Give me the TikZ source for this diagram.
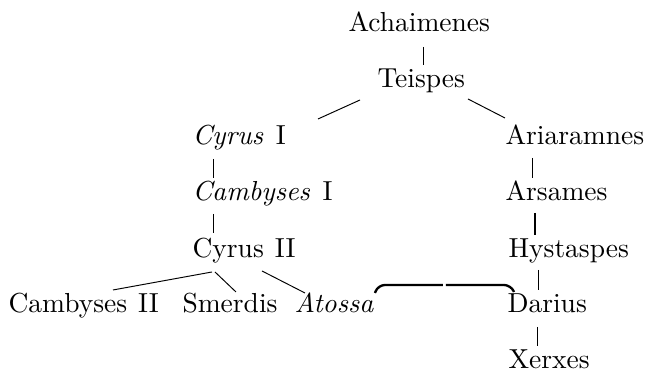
\documentclass[tikz,border=0pt]{standalone}
\usetikzlibrary{calc}
\begin{document}
\begin{tikzpicture}[x=0.3636pt,y=-0.3636pt,
  person/.style={anchor=base west,inner sep=0pt,font=\fontsize{10}{12}\selectfont},
  link/.style={line width=0.35pt},
  thicklink/.style={line width=0.6pt},
  marriage/.style={line width=0.85pt,rounded corners=2.5pt}]
\useasboundingbox (0,0) rectangle (645,372);
\node[person] (achaimenes) at (348,32) {Achaimenes};
\node[person] (teispes) at (377,88) {Teispes};
\node[person] (cyrusi) at (192,145) {\textit{Cyrus}\hspace{4.5pt}I};
\node[person] (ariaramnes) at (505,145) {Ariaramnes};
\node[person] (cambysesi) at (192,201) {\textit{Cambyses}\hspace{4.5pt}I};
\node[person] (arsames) at (505,201) {Arsames};
\node[person] (cyrusii) at (192,258) {Cyrus\hspace{4pt}II};
\node[person] (hystaspes) at (508,258) {Hystaspes};
\node[person] (cambysesii) at (8,313) {Cambyses\hspace{4pt}II};
\node[person] (smerdis) at (182,313) {Smerdis};
\node[person] (atossa) at (294,313) {\textit{Atossa}};
\node[person] (darius) at (507,313) {Darius};
\node[person] (xerxes) at (508,369) {Xerxes};

\draw[link] ($(achaimenes.base west)+(75,15)$) -- ($(teispes.base west)+(46,-23)$);
\draw[link] ($(teispes.base west)+(-17,12)$) -- ($(cyrusi.base west)+(126,-26)$);
\draw[link] ($(teispes.base west)+(91,11)$) -- ($(ariaramnes.base west)+(0,-27)$);
\draw[link] ($(cyrusi.base west)+(21,14)$) -- ($(cambysesi.base west)+(21,-23)$);
\draw[link] ($(cambysesi.base west)+(21,13)$) -- ($(cyrusii.base west)+(21,-25)$);
\draw[link] ($(ariaramnes.base west)+(27,13)$) -- ($(arsames.base west)+(27,-23)$);
\draw[thicklink] ($(arsames.base west)+(30,12)$) -- ($(hystaspes.base west)+(27,-23)$);
\draw[link] ($(hystaspes.base west)+(30,12)$) -- ($(darius.base west)+(31,-23)$);
\draw[link] ($(darius.base west)+(30,14)$) -- ($(xerxes.base west)+(29,-23)$);
\draw[link] ($(cyrusii.base west)+(20,14)$) -- ($(cambysesii.base west)+(105,-23)$);
\draw[link] ($(cyrusii.base west)+(23,14)$) -- ($(smerdis.base west)+(54,-21)$);
\draw[link] ($(cyrusii.base west)+(70,13)$) -- ($(atossa.base west)+(11,-20)$);

\draw[marriage] ($(atossa.base west)+(81,-20)$) -- ($(atossa.base west)+(84,-28)$) -- ($(darius.base west)+(-64,-28)$);
\draw[marriage] ($(darius.base west)+(-61,-28)$) -- ($(darius.base west)+(4,-28)$) -- ($(darius.base west)+(7,-21)$);
\end{tikzpicture}
\end{document}
